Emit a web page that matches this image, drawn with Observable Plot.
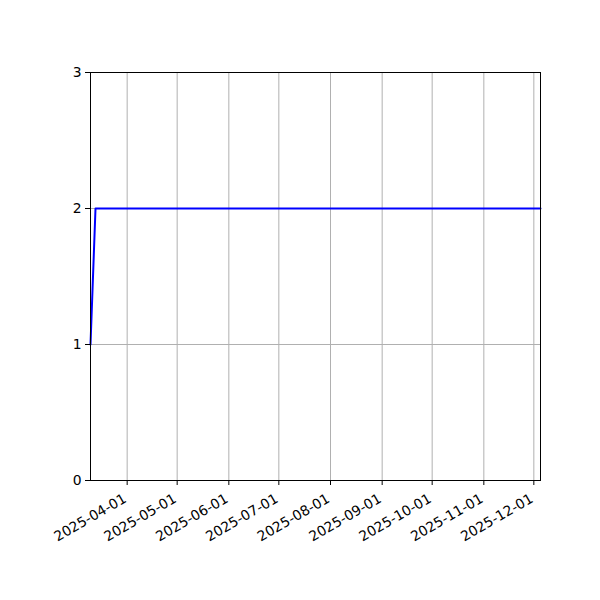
<!DOCTYPE html>
<html>
<head>
<meta charset="utf-8">
<script src="https://cdn.jsdelivr.net/npm/d3@7"></script>
<script src="https://cdn.jsdelivr.net/npm/@observablehq/plot@0.6"></script>
<style>
  html, body { margin: 0; padding: 0; background: #fff; }
  #chart svg { display: block; }
</style>
</head>
<body>
<div id="chart"></div>
<script>
const dates = ["2025-03-10", "2025-03-13", "2025-12-05"];
const values = [1, 2, 2];
const xTickLabels = ["2025-04-01", "2025-05-01", "2025-06-01", "2025-07-01", "2025-08-01", "2025-09-01", "2025-10-01", "2025-11-01", "2025-12-01"];
const yTicks = [0, 1, 2, 3];
const xDomain = ["2025-03-10", "2025-12-05"];

const data = dates.map((d, i) => ({date: new Date(d + "T00:00:00Z"), value: values[i]}));
const xTicks = xTickLabels.map(d => new Date(d + "T00:00:00Z"));

const chart = Plot.plot({
  width: 600,
  height: 600,
  marginLeft: 90,
  marginRight: 60,
  marginTop: 72,
  marginBottom: 120,
  style: {fontFamily: "DejaVu Sans", fontSize: "13.9px", background: "#fff", color: "#000"},
  x: {type: "utc", domain: xDomain.map(d => new Date(d + "T00:00:00Z"))},
  y: {domain: [0, 3]},
  marks: [
    Plot.gridX(xTicks, {stroke: "#b0b0b0", strokeOpacity: 1, strokeWidth: 1}),
    Plot.gridY(yTicks, {stroke: "#b0b0b0", strokeOpacity: 1, strokeWidth: 1}),
    Plot.line(data, {x: "date", y: "value", stroke: "#0000ff", strokeWidth: 2}),
    Plot.frame({stroke: "#000", strokeWidth: 1}),
    Plot.axisX({ticks: xTicks, tickFormat: () => "", tickSize: 5, label: null}),
    Plot.axisX({ticks: xTicks, tickFormat: d3.utcFormat("%Y-%m-%d"), tickRotate: -30, tickSize: 0, tickPadding: 3, dy: 14, dx: -2, fontSize: 13.9, label: null}),
    Plot.axisY({ticks: yTicks, tickFormat: d3.format("d"), tickSize: 5, tickPadding: 4, fontSize: 13.9, label: null})
  ]
});
document.getElementById("chart").appendChild(chart);
</script>
</body>
</html>
